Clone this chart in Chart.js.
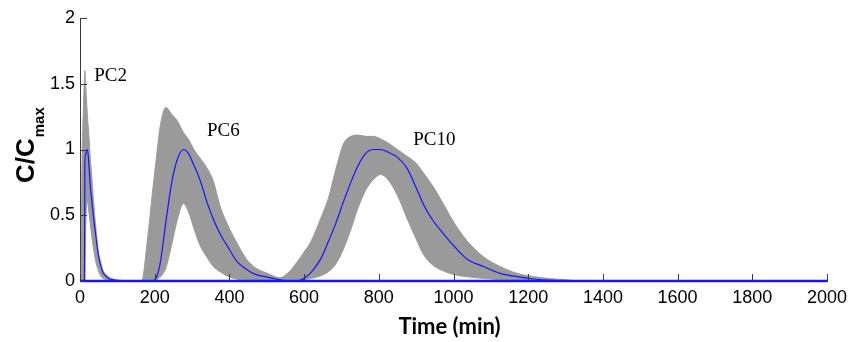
<!DOCTYPE html>
<html>
<head>
<meta charset="utf-8">
<script src="https://cdn.jsdelivr.net/npm/chart.js@4"></script>
<style>
  html, body { margin: 0; padding: 0; background: #fff; }
  canvas { display: block; }
</style>
</head>
<body>
<canvas id="chart" width="854" height="342"></canvas>
<script>
// time grid (min), shared by the envelope and the mean curve
const time = [0, 3, 5, 9, 12, 13, 15, 17, 20, 24, 27, 32, 36, 42, 49, 55, 62, 70, 80, 95, 110, 130,
  165, 180, 195, 205, 215, 230, 245, 260, 277, 290, 305, 320, 340, 357, 375, 400, 420, 445, 470, 500, 535,
  560, 580, 600, 620, 645, 665, 685, 705, 725, 745, 765, 785, 805, 825, 850, 875, 900, 920, 945, 970,
  1000, 1035, 1080, 1125, 1170, 1215, 1260, 1300, 1340, 2000];

// upper edge of the grey band
const upper = [0, 0, 0.8, 1.3, 1.55, 1.6, 1.5, 1.4, 1.25, 1.1, 0.95, 0.78, 0.62, 0.42, 0.23, 0.15, 0.08, 0.05, 0.025, 0.012, 0.005, 0,
  0, 0.3, 0.7, 0.95, 1.18, 1.32, 1.27, 1.22, 1.13, 1.08, 1.0, 0.94, 0.86, 0.76, 0.57, 0.4, 0.29, 0.17, 0.1, 0.06, 0.025,
  0.07, 0.14, 0.22, 0.31, 0.48, 0.63, 0.85, 1.04, 1.1, 1.11, 1.1, 1.1, 1.08, 1.05, 1.0, 0.95, 0.895, 0.82, 0.72, 0.6,
  0.45, 0.31, 0.185, 0.11, 0.058, 0.033, 0.018, 0.01, 0, 0];

// lower edge of the grey band
const lower = [0, 0, 0, 0, 0, 0, 0.4, 0.55, 0.6, 0.52, 0.45, 0.33, 0.25, 0.15, 0.08, 0.04, 0.02, 0.01, 0, 0, 0, 0,
  0, 0, 0, 0.01, 0.03, 0.1, 0.27, 0.46, 0.59, 0.53, 0.4, 0.28, 0.18, 0.11, 0.07, 0.03, 0.015, 0.005, 0, 0, 0,
  0, 0, 0.01, 0.02, 0.04, 0.07, 0.13, 0.24, 0.39, 0.56, 0.69, 0.77, 0.81, 0.77, 0.65, 0.48, 0.32, 0.2, 0.12, 0.08,
  0.05, 0.033, 0.02, 0.01, 0.005, 0, 0, 0, 0, 0];

// mean curve (blue)
const mean = [0, 0, 0, 0, 0, 0.9, 0.96, 0.99, 1.0, 0.88, 0.74, 0.6, 0.49, 0.35, 0.2, 0.12, 0.06, 0.035, 0.015, 0.005, 0, 0,
  0, 0, 0, 0.03, 0.14, 0.45, 0.74, 0.92, 1.0, 0.97, 0.88, 0.78, 0.6, 0.47, 0.36, 0.24, 0.15, 0.09, 0.05, 0.03, 0.01,
  0, 0, 0.02, 0.07, 0.17, 0.3, 0.44, 0.6, 0.75, 0.88, 0.97, 1.0, 1.0, 0.98, 0.94, 0.86, 0.71, 0.58, 0.46, 0.37,
  0.27, 0.17, 0.11, 0.058, 0.033, 0.015, 0.005, 0, 0, 0];

const xTicks = [0, 200, 400, 600, 800, 1000, 1200, 1400, 1600, 1800, 2000];
const xTickLabels = ['0', '200', '400', '600', '800', '1000', '1200', '1400', '1600', '1800', '2000'];
const yTicks = [0, 0.5, 1, 1.5, 2];
const yTickLabels = ['0', '0.5', '1', '1.5', '2'];
const peakLabels = ['PC2', 'PC6', 'PC10'];

const toPoints = arr => time.map((t, i) => ({ x: t, y: arr[i] }));

const BAND = '#9a9a9a';
const BLUE = '#1414ff';
const AXIS = '#3a3a3a';

// inward tick marks + titles + peak labels
const decorations = {
  id: 'decorations',
  afterDraw(chart) {
    const ctx = chart.ctx;
    const xs = chart.scales.x;
    const ys = chart.scales.y;
    const area = chart.chartArea;

    ctx.save();
    ctx.strokeStyle = AXIS;
    ctx.lineWidth = 1;
    ctx.beginPath();
    xTicks.forEach(v => {
      const px = Math.round(xs.getPixelForValue(v)) + 0.5;
      ctx.moveTo(px, area.bottom);
      ctx.lineTo(px, area.bottom - 7);
    });
    yTicks.forEach(v => {
      const py = Math.round(ys.getPixelForValue(v)) + 0.5;
      ctx.moveTo(area.left, py);
      ctx.lineTo(area.left + 7, py);
    });
    ctx.stroke();

    // x title
    ctx.fillStyle = '#000';
    ctx.font = 'bold 22px Lato';
    ctx.textAlign = 'center';
    ctx.textBaseline = 'middle';
    ctx.fillText('Time (min)', (area.left + area.right) / 2 - 4, 327);

    // y title: C/C with subscript "max"
    ctx.save();
    ctx.translate(34, 183);
    ctx.rotate(-Math.PI / 2);
    ctx.textAlign = 'left';
    ctx.textBaseline = 'alphabetic';
    ctx.font = 'bold 26px "Liberation Sans"';
    ctx.fillText('C/C', 0, 0);
    const w = ctx.measureText('C/C').width;
    ctx.font = 'bold 15px "Liberation Sans"';
    ctx.fillText('max', w + 1, 10);
    ctx.restore();

    // peak labels, anchored in data coordinates
    const anchors = [[38, 1.56], [340, 1.14], [892, 1.07]];
    ctx.font = '19px "Liberation Serif"';
    ctx.textAlign = 'left';
    ctx.textBaseline = 'middle';
    peakLabels.forEach((txt, i) => {
      ctx.fillText(txt, xs.getPixelForValue(anchors[i][0]), ys.getPixelForValue(anchors[i][1]));
    });
    ctx.restore();
  }
};

new Chart(document.getElementById('chart'), {
  type: 'line',
  data: {
    datasets: [
      {
        // zero line along the whole time axis
        data: [{ x: xTicks[0], y: 0 }, { x: xTicks[xTicks.length - 1], y: 0 }],
        borderColor: BLUE,
        borderWidth: 2.5,
        pointRadius: 0,
        clip: 4
      },
      {
        data: toPoints(mean),
        borderColor: BLUE,
        borderWidth: 1.2,
        pointRadius: 0,
        cubicInterpolationMode: 'monotone'
      },
      {
        data: toPoints(upper),
        borderColor: BAND,
        backgroundColor: BAND,
        borderWidth: 1,
        pointRadius: 0,
        fill: '+1',
        cubicInterpolationMode: 'monotone'
      },
      {
        data: toPoints(lower),
        borderColor: BAND,
        borderWidth: 1,
        pointRadius: 0,
        fill: false,
        cubicInterpolationMode: 'monotone'
      }
    ]
  },
  options: {
    responsive: false,
    animation: false,
    devicePixelRatio: 1,
    layout: { padding: { top: 18, right: 27, bottom: 0, left: 0 } },
    plugins: {
      legend: { display: false },
      tooltip: { enabled: false }
    },
    scales: {
      x: {
        type: 'linear',
        min: xTicks[0],
        max: xTicks[xTicks.length - 1],
        grid: { display: false, drawTicks: false },
        border: { display: true, color: AXIS, width: 1 },
        afterBuildTicks: s => { s.ticks = xTicks.map(v => ({ value: v })); },
        afterFit: s => { s.height = 61; },
        ticks: {
          padding: 6,
          maxRotation: 0,
          autoSkip: false,
          color: '#000',
          font: { family: 'Liberation Sans', size: 18 },
          callback: (v) => xTickLabels[xTicks.indexOf(v)]
        }
      },
      y: {
        min: yTicks[0],
        max: yTicks[yTicks.length - 1],
        grid: { display: false, drawTicks: false },
        border: { display: true, color: AXIS, width: 1 },
        afterBuildTicks: s => { s.ticks = yTicks.map(v => ({ value: v })); },
        afterFit: s => { s.width = 80; },
        ticks: {
          padding: 5,
          color: '#000',
          font: { family: 'Liberation Sans', size: 18 },
          callback: (v) => yTickLabels[yTicks.indexOf(v)]
        }
      }
    }
  },
  plugins: [decorations]
});
</script>
</body>
</html>
